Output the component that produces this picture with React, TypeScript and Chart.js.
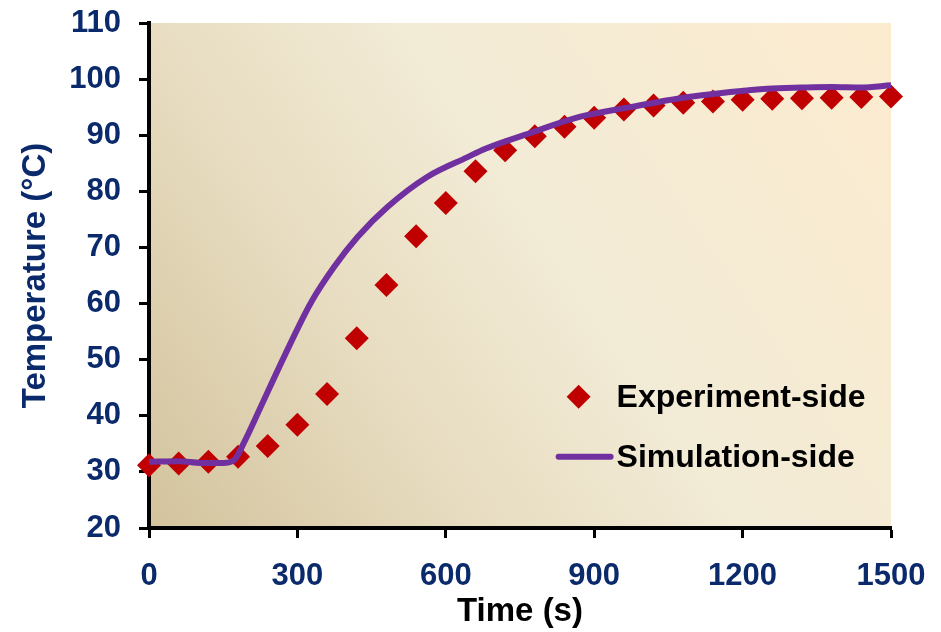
import React, { useEffect, useRef } from "react";
import { Chart, registerables } from "chart.js";

Chart.register(...registerables);

// Experiment-side measurements (every 60 s)
const expTimes = [0, 60, 120, 180, 240, 300, 360, 420, 480, 540, 600, 660, 720, 780, 840, 900, 960, 1020, 1080, 1140, 1200, 1260, 1320, 1380, 1440, 1500];
const expTemps = [31.2, 31.5, 31.8, 32.7, 34.6, 38.4, 43.9, 53.8, 63.3, 72.0, 77.9, 83.6, 87.3, 89.8, 91.5, 93.1, 94.6, 95.3, 95.8, 96.0, 96.3, 96.5, 96.6, 96.7, 96.8, 96.9];

// Simulation-side curve
const simTimes = [0, 60, 105, 150, 172, 192, 226, 273, 327, 374, 422, 482, 563, 644, 680, 771, 872, 973, 1074, 1175, 1250, 1320, 1380, 1440, 1500];
const simTemps = [31.8, 31.9, 31.6, 31.6, 32.1, 35.2, 41.6, 50.5, 60.1, 66.5, 71.9, 77.2, 82.6, 86.1, 87.6, 90.4, 93.3, 95.0, 96.6, 97.7, 98.3, 98.5, 98.6, 98.5, 98.9];

const xTicks = [0, 300, 600, 900, 1200, 1500];
const yTicks = [20, 30, 40, 50, 60, 70, 80, 90, 100, 110];

const legendLabels = ["Experiment-side", "Simulation-side"];
const xTitle = "Time (s)";
const yTitle = "Temperature (°C)";

const NAVY = "#0b2a6b";
const RED = "#c00000";
const PURPLE = "#7030a0";
const FONT = "'Liberation Sans', Arial, sans-serif";

const bgPlugin = {
  id: "bgPlugin",
  beforeDraw(chart: any) {
    const { ctx, chartArea } = chart;
    const { left, right, top, bottom } = chartArea;
    const g = ctx.createLinearGradient(left, bottom, right, top);
    g.addColorStop(0, "#d3c39d");
    g.addColorStop(0.3, "#e7dcc0");
    g.addColorStop(0.55, "#f2ebd6");
    g.addColorStop(1, "#fcebcf");
    ctx.save();
    ctx.fillStyle = g;
    ctx.fillRect(left, top, right - left, bottom - top);
    ctx.restore();
  },
};

const legendPlugin = {
  id: "customLegend",
  afterDraw(chart: any) {
    const { ctx } = chart;
    const xs = chart.scales.x;
    const ys = chart.scales.y;
    const x0 = xs.getPixelForValue(824);
    const y1 = ys.getPixelForValue(43.4);
    const y2 = ys.getPixelForValue(32.7);
    ctx.save();
    const cx = x0 + 22;
    const r = 12;
    ctx.fillStyle = RED;
    ctx.beginPath();
    ctx.moveTo(cx, y1 - r);
    ctx.lineTo(cx + r, y1);
    ctx.lineTo(cx, y1 + r);
    ctx.lineTo(cx - r, y1);
    ctx.closePath();
    ctx.fill();
    ctx.strokeStyle = PURPLE;
    ctx.lineWidth = 6;
    ctx.lineCap = "round";
    ctx.beginPath();
    ctx.moveTo(x0 + 2, y2);
    ctx.lineTo(x0 + 54, y2);
    ctx.stroke();
    ctx.fillStyle = "#000";
    ctx.font = `bold 32px ${FONT}`;
    ctx.textBaseline = "middle";
    ctx.textAlign = "left";
    ctx.fillText(legendLabels[0], x0 + 60, y1 + 1);
    ctx.fillText(legendLabels[1], x0 + 60, y2 + 1);
    ctx.restore();
  },
};

export default function App() {
  const ref = useRef<HTMLCanvasElement | null>(null);
  useEffect(() => {
    if (!ref.current) return;
    const chart = new Chart(ref.current, {
      type: "scatter",
      data: {
        datasets: [
          {
            label: legendLabels[1],
            data: simTimes.map((t, i) => ({ x: t, y: simTemps[i] })),
            showLine: true,
            borderColor: PURPLE,
            backgroundColor: PURPLE,
            borderWidth: 6,
            pointRadius: 0,
            cubicInterpolationMode: "monotone",
            order: 0,
            clip: false,
          } as any,
          {
            label: legendLabels[0],
            data: expTimes.map((t, i) => ({ x: t, y: expTemps[i] })),
            pointStyle: "rectRot",
            pointRadius: 12,
            backgroundColor: RED,
            borderColor: RED,
            borderWidth: 0,
            showLine: false,
            order: 1,
            clip: false,
          } as any,
        ],
      },
      options: {
        responsive: false,
        animation: false,
        layout: { padding: { top: 23, right: 50, left: 0, bottom: 0 } },
        plugins: { legend: { display: false }, tooltip: { enabled: false } },
        scales: {
          x: {
            type: "linear",
            min: 0,
            max: 1500,
            afterBuildTicks: (s: any) => {
              s.ticks = xTicks.map((v) => ({ value: v }));
            },
            afterFit: (s: any) => {
              s.height = 104;
              s.paddingLeft = 0;
              s.paddingRight = 0;
            },
            border: { display: true, color: "#000", width: 4 },
            grid: { drawOnChartArea: false, drawTicks: true, tickLength: 10, tickWidth: 3, tickColor: "#000" },
            ticks: {
              color: NAVY,
              font: { family: FONT, size: 31, weight: "bold" },
              padding: 20,
              maxRotation: 0,
              callback: (v: any) => String(v),
            },
            title: { display: true, text: xTitle, color: "#000", font: { family: FONT, size: 33, weight: "bold" }, padding: { top: 0, bottom: 0 } },
          },
          y: {
            type: "linear",
            min: 20,
            max: 110,
            afterBuildTicks: (s: any) => {
              s.ticks = yTicks.map((v) => ({ value: v }));
            },
            afterFit: (s: any) => {
              s.width = 149;
              s.paddingTop = 0;
              s.paddingBottom = 0;
            },
            border: { display: true, color: "#000", width: 4 },
            grid: { drawOnChartArea: false, drawTicks: true, tickLength: 10, tickWidth: 3, tickColor: "#000" },
            ticks: {
              color: NAVY,
              font: { family: FONT, size: 31, weight: "bold" },
              padding: 18,
              callback: (v: any) => String(v),
            },
            title: { display: true, text: yTitle, color: NAVY, font: { family: FONT, size: 33, weight: "bold" }, padding: { top: 16, bottom: 0 } },
          },
        },
      },
      plugins: [bgPlugin, legendPlugin],
    } as any);
    return () => chart.destroy();
  }, []);
  return (
    <div style={{ position: "fixed", left: 0, top: 0, width: 941, height: 632, background: "#fff" }}>
      <canvas ref={ref} width={941} height={632} />
    </div>
  );
}
